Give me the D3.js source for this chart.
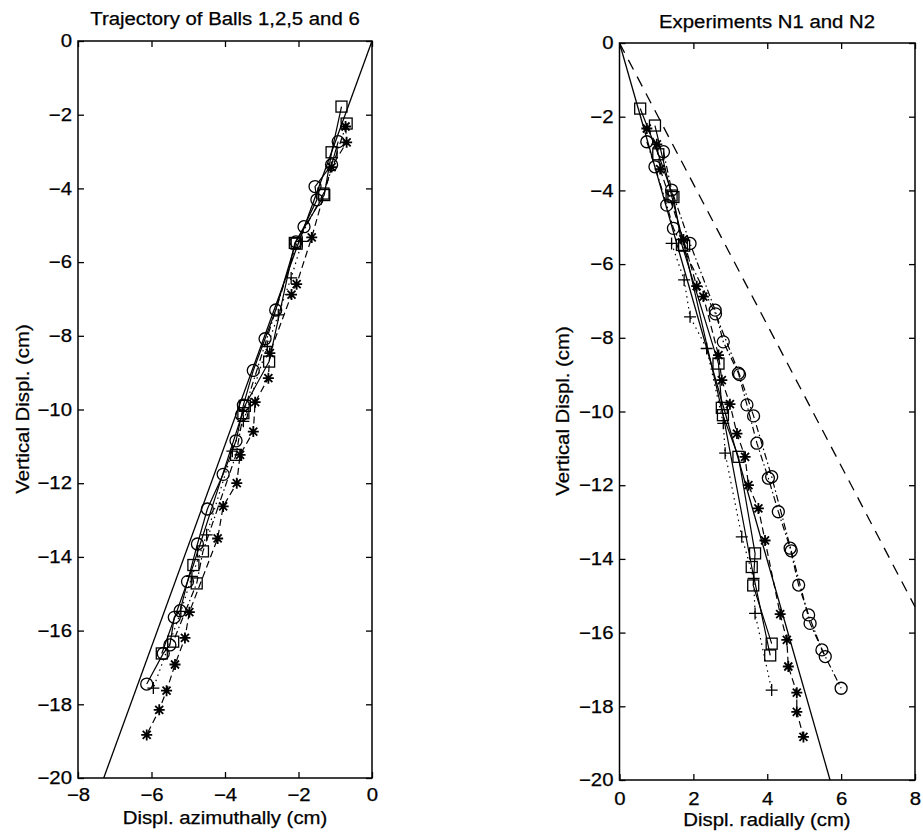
<!DOCTYPE html>
<html><head><meta charset="utf-8">
<script src="https://cdn.jsdelivr.net/npm/d3@7"></script>
<style>
body{margin:0;background:#fff}
svg{display:block}
text{font-family:"Liberation Sans",Arial,Helvetica,sans-serif;fill:#000;stroke:#000;stroke-width:0.25px}
</style>
</head><body>
<svg id="c" width="923" height="839"></svg>
<script>
// ---------------- DATA ----------------
const xTicksLeft = [-8, -6, -4, -2, 0];
const xTicksRight = [0, 2, 4, 6, 8];
const yTicks = [-20, -18, -16, -14, -12, -10, -8, -6, -4, -2, 0];

const titleLeft = "Trajectory of Balls 1,2,5 and 6";
const titleRight = "Experiments N1 and N2";
const xLabelLeft = "Displ. azimuthally (cm)";
const xLabelRight = "Displ. radially (cm)";
const yLabel = "Vertical Displ. (cm)";

// reference lines
const refLeftX = [0, -7.3], refLeftY = [0, -20];
const refRightSolidX = [0, 5.7], refRightSolidY = [0, -20];
const refRightDashX = [0, 8], refRightDashY = [0, -15.3];

// stars (same ball in both projections)
const starY = [-2.32,-2.75,-3.42,-5.33,-6.6,-6.88,-8.47,-9.15,-9.8,-10.6,-11.23,-12.0,-12.63,-13.5,-15.5,-16.2,-16.92,-17.63,-18.15,-18.83];
const starLeftX = [-0.72,-0.69,-1.1,-1.64,-2.05,-2.19,-2.78,-2.82,-3.18,-3.23,-3.59,-3.68,-4.05,-4.2,-4.97,-5.09,-5.36,-5.59,-5.79,-6.13];
const starRightX = [0.74,1.01,1.1,1.73,2.09,2.27,2.68,2.77,2.99,3.18,3.40,3.49,3.76,3.94,4.35,4.53,4.57,4.80,4.80,4.98];

// circles, left panel
const circleLeftY = [-2.73,-3.36,-3.95,-4.31,-5.04,-5.45,-7.3,-8.08,-8.94,-9.88,-10.15,-10.85,-11.76,-12.7,-13.65,-14.67,-15.46,-15.64,-16.39,-16.62,-17.45];
const circleLeftX = [-0.92,-1.1,-1.55,-1.5,-1.85,-2.07,-2.62,-2.91,-3.23,-3.5,-3.55,-3.7,-4.05,-4.48,-4.75,-5.02,-5.22,-5.38,-5.5,-5.68,-6.13];
// circles, right panel (two runs)
const circleR1Y = [-2.95,-3.99,-5.44,-7.25,-8.11,-8.96,-9.82,-10.86,-11.81,-12.72,-13.71,-14.71,-15.52,-16.47,-17.51];
const circleR1X = [1.19,1.41,1.91,2.59,2.81,3.22,3.45,3.72,4.03,4.30,4.62,4.85,5.12,5.48,6.0];
const circleR2Y = [-2.68,-3.36,-4.4,-5.03,-7.35,-9.0,-10.12,-11.77,-13.78,-15.75,-16.65];
const circleR2X = [0.74,0.96,1.28,1.46,2.6,3.25,3.63,4.12,4.65,5.16,5.57];

// squares (two runs)
const squareAY = [-1.78,-3.02,-4.18,-5.48,-8.7,-9.9,-14.22,-16.62];
const squareALeftX = [-0.83,-1.1,-1.3,-2.1,-2.8,-3.46,-4.86,-5.72];
const squareARightX = [0.56,1.05,1.46,1.69,2.68,2.77,3.58,4.08];
const squareBY = [-2.24,-4.14,-5.5,-10.1,-11.23,-13.85,-14.72,-16.3];
const squareBLeftX = [-0.69,-1.32,-2.05,-3.5,-3.7,-4.6,-4.77,-5.41];
const squareBRightX = [0.96,1.41,1.75,2.8,3.22,3.67,3.62,4.12];

// pluses
const plusY = [-5.44,-6.43,-7.43,-8.29,-10.32,-11.13,-13.4,-14.53,-15.48,-17.56];
const plusLeftX = [-1.9,-2.2,-2.55,-2.85,-3.5,-3.8,-4.5,-4.9,-5.2,-5.95];
const plusRightX = [1.41,1.75,1.91,2.36,2.81,2.86,3.31,3.63,3.67,4.12];

// ---------------- DRAWING ----------------
const svg = d3.select("#c");
const FS = 18;

const xL = d3.scaleLinear().domain([-8, 0]).range([78, 372]);
const yL = d3.scaleLinear().domain([-20, 0]).range([778, 41]);
const xR = d3.scaleLinear().domain([0, 8]).range([619.5, 915]);
const yR = d3.scaleLinear().domain([-20, 0]).range([780, 43]);

const zip = (xs, ys) => xs.map((x, i) => [x, ys[i]]);

function drawAxes(xs, ys, xTicks, xPad) {
  const g = svg.append("g");
  const [x0, x1] = xs.range();
  const [yb, yt] = ys.range();
  const style = sel => {
    sel.select(".domain").remove();
    sel.selectAll("line").attr("stroke", "#000").attr("stroke-width", 1.3);
    sel.attr("font-size", FS).attr("font-family", null);
  };
  g.append("g").attr("transform", `translate(0,${yb})`)
    .call(d3.axisBottom(xs).tickValues(xTicks).tickSizeInner(-6).tickSizeOuter(0).tickPadding(xPad)).call(style);
  g.append("g").attr("transform", `translate(0,${yt})`)
    .call(d3.axisTop(xs).tickValues(xTicks).tickSizeInner(-6).tickSizeOuter(0).tickFormat("")).call(style);
  g.append("g").attr("transform", `translate(${x0},0)`)
    .call(d3.axisLeft(ys).tickValues(yTicks).tickSizeInner(-6).tickSizeOuter(0).tickPadding(6)).call(style);
  g.append("g").attr("transform", `translate(${x1},0)`)
    .call(d3.axisRight(ys).tickValues(yTicks).tickSizeInner(-6).tickSizeOuter(0).tickFormat("")).call(style);
  g.append("rect").attr("x", x0).attr("y", yt).attr("width", x1 - x0).attr("height", yb - yt)
    .attr("fill", "none").attr("stroke", "#000").attr("stroke-width", 1.5);
}

function drawLine(xs, ys, pts, dash, w) {
  const line = d3.line().x(d => xs(d[0])).y(d => ys(d[1]));
  svg.append("path").datum(pts).attr("d", line)
    .attr("fill", "none").attr("stroke", "#000").attr("stroke-width", w || 1.2)
    .attr("stroke-dasharray", dash || null);
}

function drawMarkers(xs, ys, pts, kind) {
  const g = svg.append("g").attr("fill", "none").attr("stroke", "#000").attr("stroke-width", 1.3);
  pts.forEach(d => {
    const cx = xs(d[0]), cy = ys(d[1]);
    if (kind === "circle") {
      g.append("circle").attr("cx", cx).attr("cy", cy).attr("r", 6);
    } else if (kind === "square") {
      g.append("rect").attr("x", cx - 5.5).attr("y", cy - 5.5).attr("width", 11).attr("height", 11);
    } else if (kind === "plus") {
      g.append("path").attr("d", `M${cx - 6},${cy}H${cx + 6}M${cx},${cy - 6}V${cy + 6}`);
    } else if (kind === "star") {
      const r = 5.5, q = 4;
      g.append("path").attr("stroke-width", 1.8)
        .attr("d", `M${cx - r},${cy}H${cx + r}M${cx},${cy - r}V${cy + r}M${cx - q},${cy - q}L${cx + q},${cy + q}M${cx - q},${cy + q}L${cx + q},${cy - q}`);
    }
  });
}

// ---- Left panel ----
drawAxes(xL, yL, xTicksLeft, 10);
drawLine(xL, yL, zip(refLeftX, refLeftY), null, 1.3);
const sAL = zip(squareALeftX, squareAY), sBL = zip(squareBLeftX, squareBY);
const cL = zip(circleLeftX, circleLeftY), stL = zip(starLeftX, starY), pL = zip(plusLeftX, plusY);
drawLine(xL, yL, sAL, null);
drawLine(xL, yL, sBL, "7,3,1.5,3");
drawLine(xL, yL, cL, null);
drawLine(xL, yL, stL, "7,4");
drawLine(xL, yL, pL, "1.5,4");
drawMarkers(xL, yL, sAL, "square");
drawMarkers(xL, yL, sBL, "square");
drawMarkers(xL, yL, cL, "circle");
drawMarkers(xL, yL, pL, "plus");
drawMarkers(xL, yL, stL, "star");

// ---- Right panel ----
drawAxes(xR, yR, xTicksRight, 12);
drawLine(xR, yR, zip(refRightDashX, refRightDashY), "11,8", 1.3);
drawLine(xR, yR, zip(refRightSolidX, refRightSolidY), null, 1.3);
const sAR = zip(squareARightX, squareAY), sBR = zip(squareBRightX, squareBY);
const c1R = zip(circleR1X, circleR1Y), c2R = zip(circleR2X, circleR2Y);
const stR = zip(starRightX, starY), pR = zip(plusRightX, plusY);
drawLine(xR, yR, sAR, null);
drawLine(xR, yR, sBR, null);
drawLine(xR, yR, c1R, "7,3,1.5,3");
drawLine(xR, yR, c2R, "7,3,1.5,3");
drawLine(xR, yR, stR, "7,4");
drawLine(xR, yR, pR, "1.5,4");
drawMarkers(xR, yR, sAR, "square");
drawMarkers(xR, yR, sBR, "square");
drawMarkers(xR, yR, c1R, "circle");
drawMarkers(xR, yR, c2R, "circle");
drawMarkers(xR, yR, pR, "plus");
drawMarkers(xR, yR, stR, "star");

// ---- Titles and labels ----
const txt = (x, y, s, rot) => {
  const t = svg.append("text").attr("font-size", FS).attr("text-anchor", "middle").text(s);
  if (rot) t.attr("transform", `translate(${x},${y}) rotate(-90)`);
  else t.attr("x", x).attr("y", y);
  return t;
};
txt(225, 25, titleLeft);
txt(767, 28, titleRight);
txt(225, 824, xLabelLeft);
txt(767, 826, xLabelRight);
txt(29, 409, yLabel, true);
txt(569, 411, yLabel, true);

// widen glyphs slightly to match the scanned figure's proportions
svg.selectAll("text").each(function () {
  const w = this.getComputedTextLength();
  if (w > 0) d3.select(this).attr("textLength", w * 1.13).attr("lengthAdjust", "spacingAndGlyphs");
});
</script>
</body></html>
